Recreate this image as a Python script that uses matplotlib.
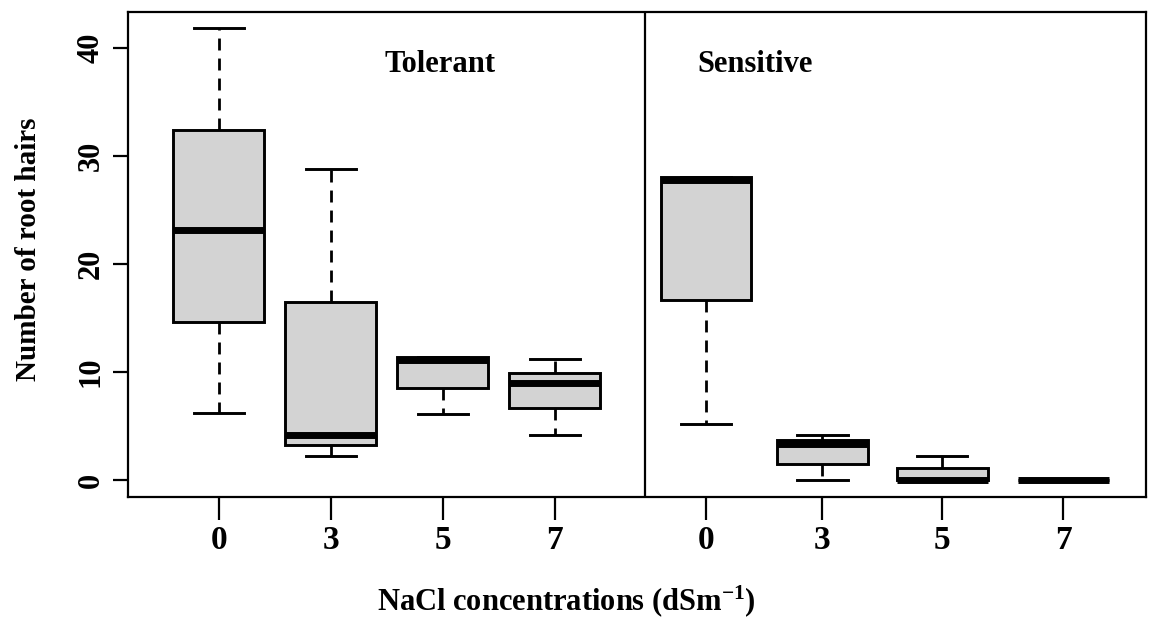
import matplotlib
matplotlib.use("Agg")
import matplotlib.pyplot as plt

# Data
groups = ["Tolerant", "Tolerant", "Tolerant", "Tolerant",
          "Sensitive", "Sensitive", "Sensitive", "Sensitive"]
tick_labels = ["0", "3", "5", "7", "0", "3", "5", "7"]
whislo = [6.2, 2.2, 6.1, 4.2, 5.2, 0.0, 0.0, 0.0]
q1 = [14.6, 3.2, 8.5, 6.7, 16.7, 1.5, 0.0, 0.0]
med = [23.1, 4.2, 11.1, 9.0, 27.8, 3.3, 0.0, 0.0]
q3 = [32.4, 16.5, 11.4, 9.9, 28.0, 3.7, 1.1, 0.0]
whishi = [41.8, 28.8, 11.4, 11.2, 28.0, 4.2, 2.2, 0.0]

# Layout
positions = [1.0, 2.0, 3.0, 4.0, 5.35, 6.39, 7.46, 8.54]
divider_x = 4.81

plt.rcParams['font.family'] = ['Liberation Serif', 'DejaVu Serif']
plt.rcParams['font.weight'] = 'bold'
plt.rcParams['mathtext.fontset'] = 'custom'
plt.rcParams['mathtext.rm'] = 'Liberation Serif:bold'
plt.rcParams['mathtext.bf'] = 'Liberation Serif:bold'
plt.rcParams['mathtext.default'] = 'bf'

fig = plt.figure(figsize=(11.51, 6.17), dpi=100)
ax = fig.add_axes([0.1112, 0.1945, 0.8845, 0.7861])

stats = []
for i in range(len(med)):
    stats.append(dict(med=med[i], q1=q1[i], q3=q3[i], whislo=whislo[i],
                      whishi=whishi[i], fliers=[], label=tick_labels[i]))

ax.bxp(stats, positions=positions, widths=0.81, patch_artist=True,
       showfliers=False,
       boxprops=dict(facecolor='#d3d3d3', edgecolor='black', linewidth=2.1),
       medianprops=dict(color='black', linewidth=5.0, solid_capstyle='butt'),
       whiskerprops=dict(color='black', linewidth=2.0, linestyle=(0, (4.3, 2.9))),
       capprops=dict(color='black', linewidth=2.1),
       capwidths=0.45)

ax.axvline(divider_x, color='black', linewidth=1.6)

ax.set_xlim(0.19, 9.28)
ax.set_ylim(-1.57, 43.3)
ax.set_yticks([0, 10, 20, 30, 40])
ax.set_yticklabels(["0", "10", "20", "30", "40"], rotation=90, va='center',
                   fontsize=22, fontweight='bold')
ax.set_xticks(positions)
ax.set_xticklabels(tick_labels, fontsize=24, fontweight='bold')
ax.tick_params(axis='x', direction='out', length=16.5, width=1.6, colors='black', pad=4)
ax.tick_params(axis='y', direction='out', length=11, width=1.6, colors='black', pad=5)
for s in ax.spines.values():
    s.set_linewidth(1.6)

ax.text(2.98, 38.4, "Tolerant", ha='center', va='center', fontsize=22, fontweight='bold')
ax.text(5.79, 38.4, "Sensitive", ha='center', va='center', fontsize=22, fontweight='bold')

ax.set_ylabel("Number of root hairs", fontsize=21, fontweight='bold')
ax.yaxis.set_label_coords(-0.084, 0.51)
fig.text(0.492, 0.026, r"NaCl concentrations (dSm$^{-1}$)", ha='center', va='center',
         fontsize=22, fontweight='bold')

fig.savefig("out.png", dpi=100)
